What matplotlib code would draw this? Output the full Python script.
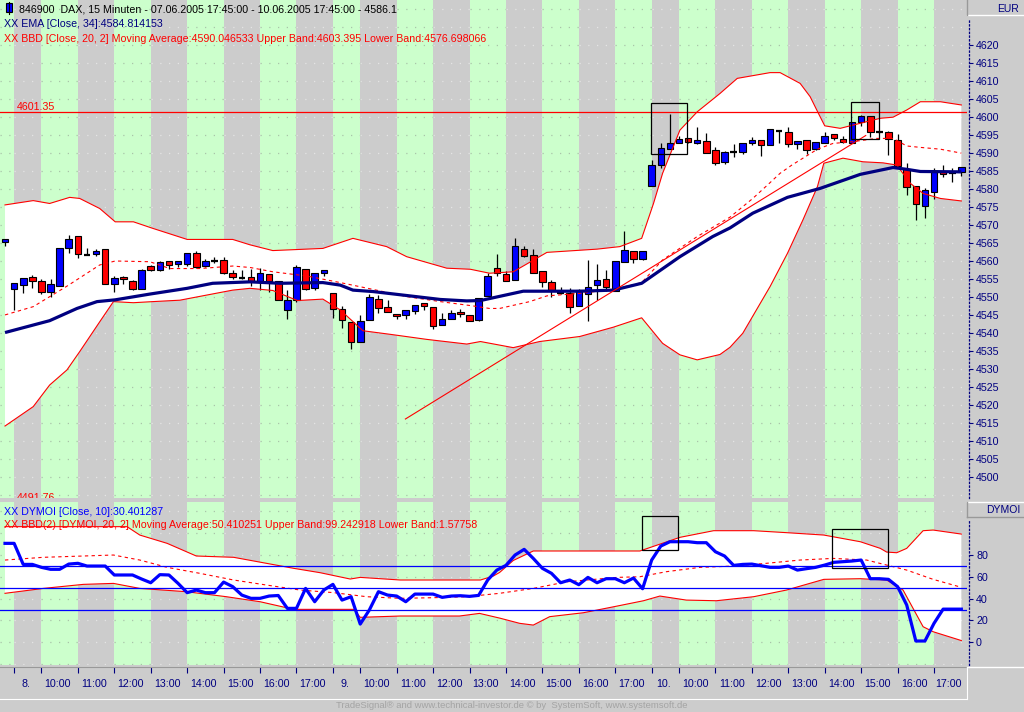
import matplotlib
matplotlib.use('Agg')
import matplotlib.pyplot as plt
from matplotlib.patches import Rectangle
from matplotlib.lines import Line2D
import numpy as np

# ---------------- data ----------------
opens = [4565.4, 4552.1, 4553.2, 4555.5, 4554.3, 4551.5, 4553.1, 4563.5, 4566.9, 4561.8,
         4561.9, 4563.2, 4553.5, 4555.5, 4554.3, 4552.3, 4558.5, 4557.4, 4559.9, 4559.2,
         4559.3, 4562.2, 4558.5, 4560.0, 4560.2, 4556.6, 4555.4, 4555.5, 4554.3, 4556.4,
         4554.3, 4546.3, 4549.1, 4557.7, 4552.6, 4556.6, 4551.0, 4546.6, 4542.9, 4537.4,
         4543.5, 4549.3, 4547.1, 4545.2, 4544.9, 4546.0, 4548.2, 4547.1, 4542.1, 4543.8,
         4545.7, 4544.9, 4543.5, 4550.2, 4558.0, 4556.3, 4554.8, 4563.3, 4561.6, 4557.1,
         4554.1, 4551.0, 4551.0, 4547.4, 4550.8, 4553.2, 4554.9, 4551.6, 4559.7, 4562.7,
         4560.5, 4580.8, 4586.6, 4591.1, 4592.7, 4594.1, 4592.7, 4593.3, 4590.8, 4587.4,
         4590.4, 4590.4, 4592.7, 4593.6, 4592.2, 4596.3, 4595.8, 4592.5, 4593.6, 4591.1,
         4592.7, 4595.2, 4593.8, 4592.7, 4598.8, 4600.2, 4596.0, 4595.8, 4593.6, 4585.5,
         4581.0, 4575.2, 4579.1, 4584.7, 4584.4, 4584.7]
highs = [4566.1, 4553.8, 4555.4, 4556.1, 4554.9, 4555.0, 4563.5, 4567.2, 4566.9, 4563.5,
         4563.2, 4563.2, 4555.8, 4555.9, 4554.7, 4557.9, 4559.0, 4560.0, 4559.9, 4559.9,
         4562.2, 4562.7, 4560.6, 4561.0, 4561.0, 4557.5, 4557.5, 4557.8, 4558.0, 4556.4,
         4554.3, 4551.9, 4558.8, 4557.7, 4556.6, 4557.4, 4551.0, 4547.5, 4542.9, 4544.9,
         4550.8, 4550.6, 4549.2, 4545.2, 4546.3, 4547.9, 4548.2, 4547.1, 4545.4, 4546.5,
         4546.6, 4544.9, 4549.6, 4556.6, 4561.9, 4557.2, 4566.5, 4564.1, 4563.3, 4557.1,
         4554.6, 4552.7, 4552.4, 4552.1, 4560.2, 4559.3, 4557.4, 4559.9, 4568.3, 4562.7,
         4562.7, 4588.0, 4592.7, 4600.8, 4594.8, 4594.1, 4597.2, 4595.5, 4591.6, 4590.5,
         4592.5, 4592.7, 4594.6, 4593.6, 4596.6, 4596.3, 4597.3, 4593.4, 4593.6, 4593.0,
         4595.8, 4595.2, 4594.9, 4598.8, 4600.5, 4600.2, 4596.3, 4596.3, 4595.2, 4587.2,
         4581.0, 4580.2, 4585.8, 4586.6, 4585.8, 4586.1]
lows = [4564.3, 4546.4, 4551.0, 4552.4, 4550.7, 4550.1, 4553.1, 4562.3, 4560.9, 4561.8,
        4561.5, 4553.5, 4551.3, 4553.7, 4551.9, 4552.3, 4557.1, 4557.1, 4557.9, 4558.3,
        4558.5, 4558.0, 4558.2, 4559.4, 4556.5, 4555.1, 4554.9, 4553.1, 4552.0, 4551.3,
        4549.1, 4544.0, 4548.7, 4551.9, 4551.8, 4555.9, 4544.2, 4541.5, 4535.6, 4537.4,
        4543.5, 4545.6, 4545.7, 4544.0, 4544.0, 4545.2, 4546.3, 4541.0, 4542.1, 4543.8,
        4544.3, 4543.2, 4543.2, 4550.2, 4555.8, 4554.3, 4554.8, 4561.0, 4556.6, 4552.9,
        4549.9, 4550.8, 4545.6, 4547.4, 4543.2, 4549.1, 4551.6, 4551.6, 4559.7, 4559.4,
        4560.2, 4580.8, 4585.8, 4591.1, 4592.7, 4592.7, 4592.5, 4590.0, 4586.6, 4586.9,
        4589.0, 4589.9, 4592.3, 4589.2, 4592.2, 4592.7, 4591.6, 4591.1, 4589.7, 4590.9,
        4592.7, 4593.6, 4592.7, 4592.7, 4597.5, 4594.4, 4595.5, 4589.4, 4586.3, 4578.3,
        4571.3, 4572.1, 4577.2, 4583.3, 4581.9, 4583.6]
closes = [4566.1, 4553.8, 4555.2, 4554.3, 4551.5, 4553.5, 4563.5, 4566.0, 4562.0, 4561.8,
          4562.7, 4553.7, 4555.2, 4554.9, 4552.3, 4557.4, 4557.4, 4559.6, 4558.8, 4559.9,
          4562.2, 4558.4, 4560.0, 4560.0, 4556.6, 4555.6, 4555.4, 4554.3, 4556.6, 4554.3,
          4549.1, 4549.1, 4558.2, 4552.3, 4556.6, 4557.4, 4546.6, 4543.5, 4537.4, 4543.3,
          4549.9, 4546.8, 4545.7, 4544.6, 4546.3, 4547.9, 4547.4, 4541.8, 4543.8, 4545.4,
          4545.2, 4543.2, 4549.6, 4555.7, 4556.6, 4554.5, 4564.1, 4561.3, 4556.6, 4554.1,
          4551.9, 4551.0, 4547.1, 4551.9, 4552.7, 4554.6, 4552.7, 4559.9, 4563.0, 4560.5,
          4562.7, 4586.6, 4591.3, 4592.7, 4593.8, 4593.0, 4593.6, 4590.0, 4587.2, 4590.2,
          4590.4, 4592.7, 4593.6, 4592.2, 4596.6, 4596.3, 4592.5, 4593.4, 4590.8, 4593.0,
          4594.9, 4594.1, 4593.0, 4598.8, 4600.2, 4596.0, 4596.0, 4593.8, 4586.3, 4580.5,
          4575.8, 4579.7, 4584.7, 4584.1, 4584.4, 4586.1]

ema_x = [0, 4.9, 7.9, 10.1, 12.1, 15.9, 20.0, 22.8, 26.9, 30.2, 34.9, 36.8, 38.2, 40.4, 44.1,
         47.8, 50.7, 52.2, 56.9, 63.1, 66.8, 69.9, 74.1, 77.7, 79.6, 82.1, 85.9, 89.5, 93.9,
         97.5, 99.0, 100.5, 105]
ema_y = [4540.1, 4543.4, 4546.8, 4548.7, 4549.2, 4550.8, 4552.4, 4553.8, 4554.2, 4553.8, 4554.0,
         4553.3, 4551.9, 4551.5, 4550.4, 4549.3, 4548.9, 4549.0, 4551.6, 4551.6, 4551.9, 4553.8,
         4561.2, 4566.8, 4569.2, 4573.3, 4577.7, 4580.2, 4584.1, 4586.0, 4585.5, 4584.9, 4584.8]

bb_up_x = [0, 3.1, 4.9, 7.1, 8.2, 10.4, 12.1, 14.1, 16.2, 20.0, 25.0, 26.9, 29.4, 34.9, 38.2,
           41.9, 44.1, 48.5, 51.1, 53.2, 55.8, 59.5, 65.0, 67.5, 69.9, 71.2, 72.2, 74.1, 76.0,
           78.5, 80.4, 84.0, 85.1, 87.3, 88.4, 89.3, 90.0, 91.7, 93.1, 96.1, 97.5, 99.0, 100.5,
           102.7, 105]
bb_up_y = [4575.6, 4576.8, 4576.0, 4577.7, 4577.4, 4574.6, 4570.9, 4570.9, 4569.1, 4566.0,
           4566.0, 4564.5, 4562.9, 4563.5, 4566.3, 4564.0, 4561.2, 4558.0, 4557.7, 4556.6,
           4557.0, 4562.4, 4563.3, 4564.0, 4566.3, 4576.0, 4584.4, 4596.4, 4601.5, 4606.6,
           4610.8, 4612.4, 4612.4, 4609.4, 4605.7, 4601.1, 4597.6, 4596.9, 4597.8, 4599.7,
           4600.0, 4602.0, 4604.3, 4604.3, 4603.4]
bb_lo_x = [0, 3.1, 4.9, 6.8, 8.2, 10.4, 11.9, 14.1, 16.2, 19.2, 25.0, 26.9, 29.4, 32.1, 34.9,
           36.8, 39.3, 42.3, 46.3, 50.7, 52.2, 55.8, 58.7, 63.1, 66.8, 69.9, 72.2, 74.1, 76.0,
           78.5, 79.6, 81.0, 84.0, 85.9, 87.6, 89.2, 89.9, 92.0, 94.2, 96.4, 97.9, 99.4, 100.8,
           102.7, 105]
bb_lo_y = [4514.1, 4519.5, 4525.5, 4529.7, 4534.8, 4543.1, 4548.7, 4548.4, 4548.7, 4549.1,
           4551.9, 4552.4, 4551.8, 4549.0, 4549.4, 4546.4, 4540.6, 4539.6, 4538.2, 4536.9,
           4537.6, 4535.9, 4537.6, 4539.0, 4541.6, 4544.2, 4537.1, 4533.9, 4532.5, 4534.0,
           4536.0, 4539.9, 4552.9, 4562.1, 4571.4, 4580.7, 4587.2, 4588.6, 4587.6, 4587.3,
           4586.7, 4581.6, 4578.8, 4577.4, 4576.7]
bb_mid_x = [0, 3.1, 6.8, 10.4, 12.1, 15.9, 18.1, 21.4, 25.0, 26.9, 29.4, 33.2, 36.8, 40.4, 44.1,
            47.8, 51.4, 53.2, 54.3, 57.6, 59.5, 63.1, 66.8, 69.9, 72.2, 76.0, 79.6, 82.1, 83.7,
            85.1, 86.4, 89.2, 90.9, 93.1, 95.7, 97.5, 99.0, 100.5, 102.7, 105]
bb_mid_y = [4545.0, 4547.3, 4553.0, 4558.9, 4560.0, 4559.8, 4557.9, 4557.9, 4558.6, 4558.2,
            4557.0, 4555.8, 4554.0, 4552.1, 4550.1, 4548.7, 4547.5, 4546.8, 4546.8, 4548.7,
            4550.3, 4551.0, 4552.1, 4554.0, 4560.3, 4566.8, 4572.2, 4577.4, 4581.1, 4584.4,
            4586.7, 4591.1, 4592.7, 4593.2, 4594.1, 4594.1, 4592.0, 4591.6, 4591.1, 4590.0]

price_levels = [4601.35, 4491.76]
trend_x = [43.96, 94.5]
trend_y = [4516.05, 4594.9]
price_boxes = [(70.96, 74.9, 4589.7, 4603.9), (92.9, 96.0, 4593.9, 4604.2)]

dymoi = [90.7, 90.7, 71.4, 71.4, 68.7, 66.9, 66.9, 71.7, 72.4, 69.9,
         69.9, 69.9, 61.7, 61.7, 61.7, 58.0, 54.6, 62.0, 61.7, 54.0,
         45.5, 47.9, 45.5, 45.5, 55.2, 51.0, 43.3, 40.3, 40.3, 42.4,
         42.9, 31.1, 31.1, 49.4, 37.2, 47.9, 53.1, 38.7, 41.8, 16.7,
         29.6, 46.4, 43.3, 42.4, 37.2, 44.2, 44.2, 44.2, 41.2, 42.4,
         42.7, 42.1, 43.0, 57.1, 66.2, 70.5, 80.0, 85.2, 76.9, 67.8,
         63.2, 54.6, 57.1, 52.8, 59.5, 54.6, 58.3, 58.3, 54.6, 58.9,
         49.1, 75.4, 88.2, 92.2, 92.2, 92.2, 91.3, 91.3, 83.0, 79.1,
         70.5, 71.4, 71.7, 70.2, 68.7, 68.7, 69.9, 66.2, 67.5, 68.7,
         70.8, 73.3, 73.9, 74.5, 75.4, 58.3, 58.3, 57.7, 51.0, 34.2,
         1.2, 1.2, 17.4, 30.4, 30.4, 30.4]
dy_up_x = [0, 13.4, 14.8, 17.8, 21.0, 25.1, 28.7, 31.7, 34.6, 37.9, 39.0, 43.4, 52.2, 53.6, 54.3,
           55.8, 58.0, 69.7, 74.1, 77.8, 82.2, 85.8, 89.9, 93.9, 96.1, 96.8, 97.9, 99.0, 100.8,
           101.9, 105]
dy_up_y = [106.0, 106.0, 98.3, 90.7, 79.1, 77.9, 72.4, 67.8, 63.8, 58.0, 59.5, 57.1, 57.1, 60.7,
           64.0, 75.0, 83.7, 83.7, 96.2, 102.3, 102.3, 100.5, 98.3, 92.2, 86.1, 82.7, 82.1, 86.1,
           102.3, 102.9, 99.2]
dy_lo_x = [0, 4.2, 8.6, 11.9, 14.8, 19.9, 24.3, 28.0, 31.7, 38.3, 39.0, 43.4, 49.9, 52.1, 54.4,
           56.5, 58.0, 59.8, 63.5, 67.2, 70.1, 71.9, 74.8, 78.1, 82.2, 85.8, 89.9, 93.9, 96.8,
           98.6, 100.8, 101.9, 105]
dy_lo_y = [44.9, 49.4, 53.1, 54.0, 49.4, 46.4, 41.8, 37.2, 30.2, 30.2, 22.9, 24.1, 24.1, 26.5,
           22.0, 17.4, 15.8, 23.5, 27.1, 33.2, 38.1, 42.4, 38.7, 38.1, 41.8, 47.9, 57.7, 58.3,
           57.1, 47.9, 14.3, 9.7, 1.6]
dy_mid_x = [0, 4.2, 8.6, 11.9, 14.8, 17.8, 21.4, 25.1, 28.7, 32.4, 36.1, 39.7, 43.4, 47.1, 50.7,
            54.3, 58.0, 61.7, 67.2, 69.7, 72.6, 76.3, 80.0, 83.6, 87.3, 90.9, 94.6, 96.8, 99.0,
            101.9, 105]
dy_mid_y = [75.4, 77.9, 79.1, 80.0, 75.4, 68.7, 63.2, 57.1, 52.5, 47.9, 45.5, 41.8, 40.3, 40.9,
            41.8, 44.9, 49.4, 55.5, 59.5, 60.1, 64.7, 68.7, 69.9, 72.4, 75.4, 76.9, 75.4, 70.8,
            66.2, 57.7, 50.4]
dymoi_levels = [70, 50, 30]
dymoi_boxes = [(69.9, 73.9, 84.3, 115.7), (90.8, 96.9, 67.8, 103.6)]

day_labels = ['8.', '9.', '10.']
hour_labels = ['10:00', '11:00', '12:00', '13:00', '14:00', '15:00', '16:00', '17:00']
price_ticks = list(range(4500, 4621, 5))
dymoi_ticks = [0, 20, 40, 60, 80]

title_txt = "846900  DAX, 15 Minuten - 07.06.2005 17:45:00 - 10.06.2005 17:45:00 - 4586.1"
ema_txt = "XX EMA [Close, 34]:4584.814153"
bbd_txt = "XX BBD [Close, 20, 2] Moving Average:4590.046533 Upper Band:4603.395 Lower Band:4576.698066"
dy_txt = "XX DYMOI [Close, 10]:30.401287"
dybb_txt = "XX BBD(2) [DYMOI, 20, 2] Moving Average:50.410251 Upper Band:99.242918 Lower Band:1.57758"
footer_txt = "TradeSignal\u00ae and www.technical-investor.de \u00a9 by  SystemSoft, www.systemsoft.de"

# ---------------- style ----------------
plt.rcParams['font.family'] = ['Liberation Sans', 'DejaVu Sans']
W, H = 1024, 712
BG = '#cccccc'
GREEN = '#ccffcc'
NAVY = '#000080'
BLUE = '#0000ff'
RED = '#ff0000'
FS = 7.7

XMIN, XMAX = -0.55, 105.62
fig = plt.figure(figsize=(W / 100, H / 100), dpi=100, facecolor=BG)


def px_axes(x0, y0, x1, y1):
    return fig.add_axes([x0 / W, 1 - y1 / H, (x1 - x0) / W, (y1 - y0) / H])


def fy(y):
    return 1 - y / H


# hour tick positions (bar indices)
ticks = []
for d in range(3):
    s = 1 + 35 * d
    ticks += [s] + [s + 3 + 4 * k for k in range(8)]
edges = [XMIN] + ticks + [XMAX]


def stripes(ax, levels):
    for j in range(len(edges) - 1):
        a, b = edges[j], edges[j + 1]
        green = (j % 2 == 0)
        ax.axvspan(a, b, color=GREEN if green else BG, lw=0, zorder=0)
        ax.hlines(levels, a, b, colors='#a9c4a9' if green else '#e4e4e4',
                  linestyles=(0, (1, 6)), lw=0.9, zorder=0.5)


def right_axis(ax, tks, top):
    ax.set_xticks([])
    ax.yaxis.tick_right()
    ax.set_yticks(tks)
    ax.set_yticklabels([str(t) for t in tks])
    ax.tick_params(axis='y', colors=NAVY, labelcolor=NAVY, labelsize=FS,
                   length=3, width=0.8, pad=2)
    for sp in ['top', 'left', 'bottom']:
        ax.spines[sp].set_visible(False)
    r = ax.spines['right']
    r.set_position(('outward', 1.5))
    r.set_color(NAVY)
    r.set_linestyle((0, (1, 2)))
    r.set_linewidth(0.9)
    r.set_bounds(ax.get_ylim()[0], top)


# ---------------- price panel ----------------
ax = px_axes(0, 0, 967, 497.7)
ax.set_xlim(XMIN, XMAX)
ax.set_ylim(4494.16, 4632.6)
ax.set_facecolor(BG)
stripes(ax, list(range(4495, 4635, 5)))

ax.fill(np.r_[bb_up_x, bb_lo_x[::-1]], np.r_[bb_up_y, bb_lo_y[::-1]],
        color='white', lw=0, zorder=1)

o = np.array(opens); h = np.array(highs); l = np.array(lows); c = np.array(closes)
x = np.arange(len(c))
bw = 0.72
ax.vlines(x, l, h, colors='black', lw=0.9, zorder=3)
up = c > o
dn = c < o
dj = c == o
ax.bar(x[up], (c - o)[up], bottom=o[up], width=bw, color=BLUE, edgecolor='black', lw=0.8, zorder=4)
ax.bar(x[dn], (c - o)[dn], bottom=o[dn], width=bw, color=RED, edgecolor='black', lw=0.8, zorder=4)
ax.hlines(c[dj], x[dj] - bw / 2, x[dj] + bw / 2, colors='black', lw=1.6, zorder=4)

ax.plot(bb_up_x, bb_up_y, color=RED, lw=0.8, zorder=5)
ax.plot(bb_lo_x, bb_lo_y, color=RED, lw=0.8, zorder=5)
ax.plot(bb_mid_x, bb_mid_y, color=RED, lw=0.8, ls=(0, (3, 3)), zorder=5)
ax.plot(ema_x, ema_y, color=NAVY, lw=2.3, zorder=6, solid_capstyle='butt')
ax.plot(trend_x, trend_y, color=RED, lw=0.8, zorder=6)
for lv in price_levels:
    ax.axhline(lv, color=RED, lw=0.9, zorder=6)
ax.text(1.28, price_levels[0] + 0.75, f"{price_levels[0]:.2f}", color=RED, fontsize=FS,
        va='baseline', ha='left', zorder=7, clip_on=True)
ax.text(1.28, price_levels[1] + 1.6, f"{price_levels[1]:.2f}", color=RED, fontsize=FS,
        va='baseline', ha='left', zorder=7, clip_on=True)
for (x0, x1, y0, y1) in price_boxes:
    ax.add_patch(Rectangle((x0, y0), x1 - x0, y1 - y0, fill=False, ec='black', lw=0.9, zorder=7))
right_axis(ax, price_ticks, 4627.6)

# ---------------- DYMOI panel ----------------
ax2 = px_axes(0, 502, 967, 665)
ax2.set_xlim(XMIN, XMAX)
ax2.set_ylim(-20.8, 128.6)
ax2.set_facecolor(BG)
stripes(ax2, list(range(-20, 130, 20)))
ax2.fill(np.r_[dy_up_x, dy_lo_x[::-1]], np.r_[dy_up_y, dy_lo_y[::-1]],
         color='white', lw=0, zorder=1)
ax2.plot(dy_up_x, dy_up_y, color=RED, lw=0.8, zorder=3)
ax2.plot(dy_lo_x, dy_lo_y, color=RED, lw=0.8, zorder=3)
ax2.plot(dy_mid_x, dy_mid_y, color=RED, lw=0.8, ls=(0, (3, 3)), zorder=3)
for lv in dymoi_levels:
    ax2.axhline(lv, color=BLUE, lw=0.9, zorder=4)
ax2.plot(np.arange(len(dymoi)), dymoi, color=BLUE, lw=2.3, zorder=5)
for (x0, x1, y0, y1) in dymoi_boxes:
    ax2.add_patch(Rectangle((x0, y0), x1 - x0, y1 - y0, fill=False, ec='black', lw=0.9, zorder=7))
right_axis(ax2, dymoi_ticks, 112)

# ---------------- time axis ----------------
axx = px_axes(0, 667, 967, 699)
axx.set_xlim(XMIN, XMAX)
axx.set_ylim(0, 1)
axx.set_facecolor(BG)
axx.set_yticks([])
axx.set_xticks(ticks)
axx.tick_params(axis='x', which='major', top=True, bottom=False, labeltop=False,
                labelbottom=False, direction='in', length=4.3, width=0.8, color=NAVY)
axx.spines['left'].set_visible(False)
axx.spines['top'].set_color('#999999')
axx.spines['right'].set_color('white')
axx.spines['bottom'].set_color('white')
for d, dl in enumerate(day_labels):
    s = 1 + 35 * d
    axx.text(s + 1.3, 0.384, dl, ha='center', va='baseline', color=NAVY, fontsize=FS)
    for k, hl in enumerate(hour_labels):
        a = s + 3 + 4 * k
        b = min(a + 4, XMAX)
        axx.text((a + b) / 2 - 0.2, 0.384, hl, ha='center', va='baseline', color=NAVY, fontsize=FS)

# ---------------- texts & frames ----------------
fig.text(19 / W, fy(12.7), title_txt, color='black', fontsize=FS, va='baseline')
fig.text(4 / W, fy(27.3), ema_txt, color=NAVY, fontsize=FS, va='baseline')
fig.text(4 / W, fy(41.7), bbd_txt, color=RED, fontsize=FS, va='baseline')
fig.text(4 / W, fy(515), dy_txt, color=BLUE, fontsize=FS, va='baseline')
fig.text(4 / W, fy(528.3), dybb_txt, color=RED, fontsize=FS, va='baseline')
fig.text(512 / W, fy(708), footer_txt, color='#a4a4a4', fontsize=6.8, va='baseline', ha='center')
fig.text(1019 / W, fy(11.7), "EUR", color=NAVY, fontsize=7.5, va='baseline', ha='right')
fig.text(1020 / W, fy(513.3), "DYMOI", color=NAVY, fontsize=7.5, va='baseline', ha='right')

# legend icon
fig.add_artist(Line2D([9 / W, 9 / W], [fy(1.5), fy(13.5)], transform=fig.transFigure,
                      color='black', lw=0.8))
fig.add_artist(Rectangle((6 / W, fy(11.7)), 6 / W, 8.4 / H, transform=fig.transFigure,
                         facecolor=BLUE, edgecolor='black', lw=0.8))


def fline(xs, ys, col, lw=1.0):
    fig.add_artist(Line2D([v / W for v in xs], [fy(v) for v in ys], transform=fig.transFigure,
                          color=col, lw=lw))


fline([967, 1024], [15.3, 15.3], 'white')
fline([967, 967], [0, 15.3], '#999999')
fline([967, 1024], [501.5, 501.5], 'white')
fline([967, 1024], [517, 517], '#999999')
fline([967, 967], [501.5, 517], '#999999')
fline([967, 1024], [666.7, 666.7], 'white')

fig.savefig('out.png', dpi=100, facecolor=BG)
